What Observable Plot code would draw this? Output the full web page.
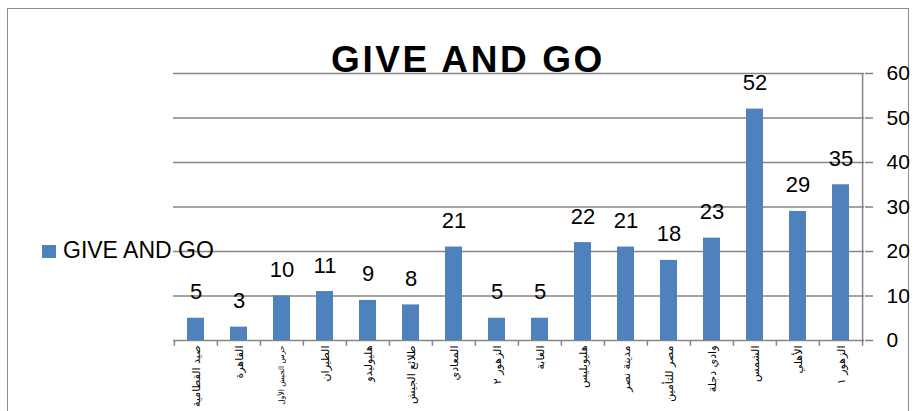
<!DOCTYPE html>
<html>
<head>
<meta charset="utf-8">
<script src="https://cdn.jsdelivr.net/npm/d3@7"></script>
<script src="https://cdn.jsdelivr.net/npm/@observablehq/plot@0.6"></script>
<style>
  html, body { margin: 0; padding: 0; background: #fff; }
  #wrap { position: relative; width: 917px; height: 411px; overflow: hidden; }
  #border { position: absolute; left: 7px; top: 8px; width: 902px; height: 420px; border: 1.5px solid #8c8c8c; box-sizing: border-box; }
  #overlay { position: absolute; left: 0; top: 0; pointer-events: none; }
  #chart { position: absolute; left: 0; top: 0; }
</style>
</head>
<body>
<div id="wrap">
  <div id="border"></div>
  <div id="chart"></div>
  <svg id="overlay" width="917" height="411">
    <text x="468" y="72" text-anchor="middle" font-family="Liberation Sans, Arial, sans-serif" font-weight="bold" font-size="37" letter-spacing="2.6">GIVE AND GO</text>
    <rect x="42" y="245" width="14" height="13" fill="#4F81BD"></rect>
    <text x="63" y="258" font-family="Liberation Sans, Arial, sans-serif" font-size="23">GIVE AND GO</text>
  </svg>
</div>
<script>
const categories = ["صيد القطامية", "القاهرة", "حرس الجيش الأول", "الطيران", "هليوليدو", "طلائع الجيش", "المعادي", "الزهور ٢", "الغابة", "هليوبليس", "مدينة نصر", "مصر للتأمين", "وادي دجلة", "الشمس", "الأهلي", "الزهور ١"];
const values = [5, 3, 10, 11, 9, 8, 21, 5, 5, 22, 21, 18, 23, 52, 29, 35];
const yTicks = [0, 10, 20, 30, 40, 50, 60];
const seriesName = "GIVE AND GO";

const data = categories.map((c, i) => ({cat: c, val: values[i]}));
const step = (864 - 173) / categories.length;

const chart = Plot.plot({
  width: 917,
  height: 411,
  marginLeft: 173,
  marginRight: 53,
  marginTop: 73,
  marginBottom: 71,
  style: {background: "transparent", fontFamily: "Liberation Sans, Arial, sans-serif"},
  x: {domain: categories, paddingInner: 0.6, paddingOuter: 0.3, label: null, axis: null},
  y: {domain: [0, 60], label: null},
  marks: [
    Plot.ruleY(yTicks, {stroke: "#868686", strokeWidth: 1.5}),
    Plot.ruleX([categories[categories.length - 1]], {y1: 0, y2: 60, dx: step / 2, stroke: "#868686", strokeWidth: 1.5}),
    Plot.ruleX(categories, {y1: 0, y2: -1.3, dx: -step / 2, stroke: "#868686", strokeWidth: 1.5}),
    Plot.ruleX([categories[categories.length - 1]], {y1: 0, y2: -1.3, dx: step / 2, stroke: "#868686", strokeWidth: 1.5}),
    Plot.barY(data, {x: "cat", y: "val", fill: "#4F81BD"}),
    Plot.text(data, {x: "cat", y: "val", text: d => String(d.val), dy: -19, lineAnchor: "bottom", fontSize: 22, fill: "#000"}),
    Plot.axisY({anchor: "right", ticks: yTicks, tickSize: 8, tickPadding: 14, fontSize: 21, stroke: "#868686", strokeWidth: 1.5, color: "#000", textAnchor: "start"}),
    Plot.text(categories, {x: d => d, y: 0, text: d => d, rotate: -90, textAnchor: "end", dy: 5, fontSize: d => d.length > 13 ? 7.5 : 11, fontFamily: "DejaVu Sans, sans-serif", fill: "#000"})
  ]
});
document.getElementById("chart").appendChild(chart);
</script>
</body>
</html>
